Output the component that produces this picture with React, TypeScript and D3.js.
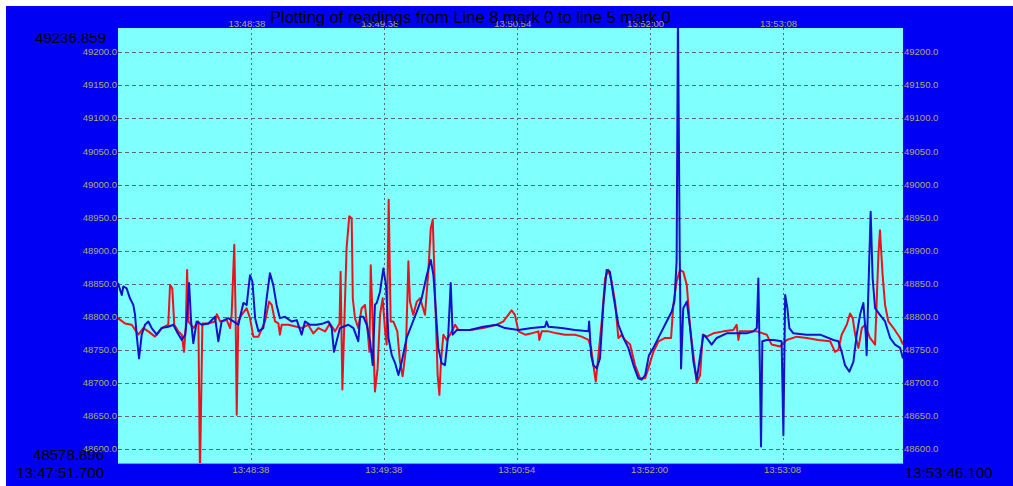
import React, { useEffect, useRef } from 'react';
import * as d3 from 'd3';

// chart text
const title = 'Plotting of readings from Line 8 mark 0 to line 5 mark 0';
const startLabel = '13:47:51.700';
const endLabel = '13:53:46.100';
const yMaxLabel = '49236.859';
const yMinLabel = '48578.896';

// axis extents (value range and elapsed seconds)
const yMax = 49236.859;
const yMin = 48578.896;
const duration = 354.4;

const yTicks = [48600, 48650, 48700, 48750, 48800, 48850, 48900, 48950, 49000, 49050, 49100, 49150, 49200];
const xTicks = [60, 120, 180, 240, 300];
const xTickLabels = ['13:48:38', '13:49:38', '13:50:54', '13:52:00', '13:53:08'];

// red series: elapsed seconds / reading
const redTimes = [
  0, 3.2, 6.2, 9.2, 11.4, 13.7, 16.7, 19.7, 22.7, 23.5, 24.5, 25.4, 27.2, 28.8, 29.8, 30.6, 31.2, 31.8, 34.0, 36.3,
  37.0, 38.1, 40.8, 43.8, 44.6, 46.1, 49.1, 50.6, 51.3, 52.5, 53.1, 53.6, 54.3, 55.8, 58.1, 59.6, 61.1, 63.4, 66.4, 68.2,
  69.4, 70.9, 72.4, 73.1, 73.9, 76.9, 80.7, 82.9, 85.9, 86.7, 88.2, 90.5, 93.5, 95.7, 98.0, 100.0, 100.5, 101.3, 102.2, 103.2,
  104.4, 105.5, 106.0, 107.0, 108.5, 110.0, 111.5, 112.6, 113.5, 114.1, 115.0, 116.0, 117.2, 118.3, 119.5, 120.6, 121.3, 122.2, 123.1, 124.3,
  126.1, 127.3, 128.5, 130.0, 131.1, 131.8, 133.3, 134.9, 136.4, 138.6, 140.1, 141.2, 142.1, 143.1, 144.3, 145.1, 145.8, 146.9, 148.4, 149.9,
  152.2, 153.7, 158.9, 164.9, 171.0, 174.0, 176.2, 177.7, 179.2, 180.8, 183.8, 186.8, 189.8, 190.2, 191.3, 194.3, 198.1, 201.8, 206.3, 209.3,
  212.4, 213.6, 214.6, 215.7, 216.9, 218.4, 219.9, 221.4, 222.9, 224.4, 225.9, 227.4, 228.9, 231.2, 233.4, 235.7, 238.0, 239.4, 241.7, 244.0,
  247.0, 249.7, 250.7, 252.2, 253.7, 255.2, 256.8, 258.3, 259.8, 261.3, 262.8, 264.0, 265.8, 268.8, 273.3, 277.8, 279.3, 280.1, 280.8, 285.3,
  288.4, 292.9, 295.1, 298.9, 301.9, 306.4, 310.9, 316.2, 321.5, 323.7, 325.2, 326.7, 329.0, 330.5, 331.7, 332.8, 334.3, 335.8, 337.3, 339.5,
  341.8, 343.3, 344.0, 345.2, 346.3, 347.8, 350.1, 353.1, 354.4,
];
const redValues = [
  48798, 48790, 48788, 48773, 48783, 48778, 48770, 48783, 48788, 48848, 48843, 48788, 48778, 48773, 48747, 48783, 48871, 48793, 48783, 48793,
  48560, 48790, 48790, 48793, 48804, 48793, 48795, 48783, 48803, 48909, 48803, 48652, 48793, 48803, 48813, 48798, 48770, 48770, 48793, 48823,
  48818, 48793, 48790, 48773, 48788, 48788, 48785, 48783, 48788, 48783, 48775, 48783, 48778, 48790, 48778, 48790, 48868, 48690, 48793, 48904,
  48952, 48949, 48828, 48798, 48783, 48813, 48818, 48783, 48747, 48878, 48793, 48687, 48722, 48803, 48828, 48778, 48758, 48977, 48793, 48793,
  48778, 48732, 48710, 48752, 48884, 48823, 48803, 48823, 48828, 48803, 48868, 48934, 48947, 48838, 48712, 48682, 48732, 48773, 48765, 48773,
  48788, 48780, 48780, 48783, 48788, 48793, 48803, 48810, 48803, 48778, 48773, 48775, 48778, 48765, 48778, 48778, 48775, 48773, 48773, 48770,
  48765, 48753, 48727, 48702, 48742, 48793, 48858, 48871, 48853, 48823, 48768, 48773, 48765, 48758, 48727, 48707, 48707, 48722, 48747, 48763,
  48768, 48768, 48818, 48853, 48871, 48868, 48848, 48783, 48742, 48700, 48712, 48773, 48770, 48775, 48778, 48780, 48788, 48765, 48778, 48778,
  48778, 48773, 48758, 48755, 48765, 48770, 48768, 48765, 48763, 48747, 48750, 48773, 48788, 48805, 48798, 48773, 48753, 48783, 48788, 48768,
  48758, 48894, 48931, 48863, 48818, 48793, 48783, 48768, 48758,
];

// blue series: elapsed seconds / reading
const blueTimes = [
  0, 1.7, 2.4, 3.9, 5.4, 6.9, 7.7, 8.4, 9.5, 10.7, 12.2, 13.7, 15.2, 17.5, 19.7, 22.7, 25.0, 26.5, 28.8, 30.3,
  31.0, 32.1, 33.0, 34.0, 35.5, 37.8, 40.8, 43.8, 45.3, 46.8, 49.8, 52.1, 54.3, 56.6, 58.1, 59.6, 60.7, 61.9, 63.4, 65.6,
  67.1, 68.6, 70.1, 71.6, 73.1, 75.4, 78.4, 80.7, 82.9, 84.4, 86.7, 89.7, 92.7, 95.0, 96.5, 97.5, 98.7, 100.2, 101.7, 104.0,
  106.3, 108.5, 109.3, 110.8, 112.3, 113.8, 115.0, 116.0, 116.8, 118.3, 119.8, 121.0, 122.1, 123.6, 125.1, 126.6, 128.1, 130.3, 132.6, 134.9,
  137.1, 139.4, 141.2, 142.4, 143.6, 144.6, 146.1, 147.6, 149.1, 150.2, 151.1, 152.9, 158.9, 164.9, 171.0, 174.7, 180.8, 186.8, 192.8, 193.5,
  194.3, 200.3, 206.3, 212.4, 212.7, 213.6, 214.6, 216.1, 217.6, 219.1, 220.6, 222.1, 223.6, 225.9, 228.2, 230.4, 232.7, 234.9, 236.4, 238.0,
  239.7, 241.7, 244.7, 247.7, 250.0, 251.2, 252.2, 252.8, 253.6, 254.2, 255.2, 256.8, 258.3, 259.8, 261.3, 262.8, 264.3, 265.8, 268.0, 270.3,
  274.8, 279.3, 283.8, 286.8, 288.4, 289.1, 289.9, 290.3, 290.9, 292.9, 295.9, 299.6, 300.4, 301.2, 302.2, 303.1, 304.9, 310.9, 317.0, 323.0,
  325.2, 326.7, 328.2, 330.2, 332.0, 333.5, 335.0, 336.5, 337.6, 338.0, 338.8, 339.8, 340.7, 341.8, 344.0, 346.3, 348.6, 350.8, 353.1, 354.4,
];
const blueValues = [
  48851, 48833, 48846, 48843, 48828, 48818, 48803, 48773, 48737, 48773, 48788, 48793, 48783, 48773, 48783, 48785, 48788, 48778, 48765, 48773,
  48793, 48851, 48793, 48760, 48793, 48788, 48790, 48800, 48763, 48793, 48798, 48793, 48788, 48821, 48818, 48863, 48853, 48798, 48778, 48783,
  48828, 48866, 48848, 48818, 48798, 48800, 48793, 48795, 48773, 48793, 48788, 48788, 48790, 48793, 48783, 48747, 48763, 48783, 48785, 48788,
  48783, 48763, 48800, 48800, 48788, 48763, 48727, 48818, 48821, 48838, 48873, 48848, 48768, 48742, 48730, 48712, 48732, 48768, 48788, 48808,
  48828, 48863, 48886, 48863, 48804, 48753, 48730, 48727, 48773, 48851, 48773, 48780, 48780, 48785, 48788, 48783, 48780, 48783, 48785, 48793,
  48785, 48783, 48780, 48778, 48793, 48742, 48727, 48722, 48737, 48818, 48871, 48868, 48833, 48788, 48768, 48753, 48727, 48707, 48705, 48712,
  48742, 48753, 48773, 48793, 48808, 48823, 48884, 49260, 48894, 48722, 48813, 48823, 48783, 48732, 48705, 48740, 48773, 48768, 48758, 48768,
  48775, 48775, 48775, 48778, 48783, 48858, 48697, 48604, 48763, 48765, 48765, 48763, 48621, 48833, 48813, 48783, 48775, 48773, 48773, 48765,
  48763, 48747, 48727, 48717, 48732, 48773, 48803, 48821, 48773, 48742, 48843, 48959, 48858, 48813, 48803, 48793, 48768, 48758, 48753, 48737,
];

const W = 1013;
const H = 486;
const plot = { left: 118, right: 903, top: 28, bottom: 463 };
const labelColor = '#b4ac6c';
const fontFamily = '"Liberation Sans", Arial, sans-serif';

const Chart = () => {
  const ref = useRef<SVGSVGElement>(null);

  useEffect(() => {
    document.body.style.margin = '0';
    const svg = d3.select(ref.current);
    svg.selectAll('*').remove();

    const x = d3.scaleLinear().domain([0, duration]).range([plot.left, plot.right]);
    const y = d3.scaleLinear().domain([yMin, yMax]).range([plot.bottom, plot.top]);

    // backgrounds
    svg.append('rect').attr('width', W).attr('height', H).attr('fill', '#ffffff');
    svg.append('rect').attr('x', 6).attr('y', 6).attr('width', W - 6).attr('height', H - 6).attr('fill', '#0000f4');
    svg.append('rect')
      .attr('x', plot.left).attr('y', plot.top)
      .attr('width', plot.right - plot.left).attr('height', plot.bottom - plot.top)
      .attr('fill', '#80ffff');
    svg.append('line')
      .attr('x1', plot.left).attr('x2', plot.right)
      .attr('y1', plot.bottom + 0.5).attr('y2', plot.bottom + 0.5)
      .attr('stroke', '#6f8cff');

    // grid
    svg.append('g').selectAll('line').data(yTicks).enter().append('line')
      .attr('x1', plot.left).attr('x2', plot.right)
      .attr('y1', d => Math.round(y(d)) + 0.5).attr('y2', d => Math.round(y(d)) + 0.5)
      .attr('stroke', '#5a6a6a').attr('stroke-dasharray', '4,3');
    svg.append('g').selectAll('line').data(xTicks).enter().append('line')
      .attr('x1', d => Math.round(x(d)) + 0.5).attr('x2', d => Math.round(x(d)) + 0.5)
      .attr('y1', plot.top).attr('y2', plot.bottom)
      .attr('stroke', '#5a6a6a').attr('stroke-dasharray', '2,3');

    // tick labels
    const yl = svg.append('g').attr('font-family', fontFamily).attr('font-size', 9.5).attr('fill', labelColor);
    yl.selectAll('text.l').data(yTicks).enter().append('text')
      .attr('class', 'l')
      .attr('x', plot.left - 1).attr('y', d => y(d) + 3)
      .attr('text-anchor', 'end')
      .text(d => d.toFixed(1));
    yl.selectAll('text.r').data(yTicks).enter().append('text')
      .attr('class', 'r')
      .attr('x', plot.right + 1).attr('y', d => y(d) + 3)
      .attr('text-anchor', 'start')
      .text(d => d.toFixed(1));

    const xl = svg.append('g').attr('font-family', fontFamily).attr('font-size', 9.5).attr('fill', labelColor)
      .attr('text-anchor', 'middle');
    xl.selectAll('text.t').data(xTicks).enter().append('text')
      .attr('class', 't')
      .attr('x', d => x(d) - 4).attr('y', plot.top - 1)
      .text((d, i) => xTickLabels[i]);
    xl.selectAll('text.b').data(xTicks).enter().append('text')
      .attr('class', 'b')
      .attr('x', d => x(d)).attr('y', plot.bottom + 10)
      .text((d, i) => xTickLabels[i]);

    // lines
    svg.append('clipPath').attr('id', 'plot-clip').append('rect')
      .attr('x', plot.left).attr('y', plot.top)
      .attr('width', plot.right - plot.left).attr('height', plot.bottom - plot.top);

    const line = d3.line<[number, number]>().x(d => x(d[0])).y(d => y(d[1]));
    const red = redTimes.map((t, i) => [t, redValues[i]] as [number, number]);
    const blue = blueTimes.map((t, i) => [t, blueValues[i]] as [number, number]);

    const lines = svg.append('g').attr('clip-path', 'url(#plot-clip)');
    lines.append('path').attr('d', line(red)).attr('fill', 'none')
      .attr('stroke', '#e8141c').attr('stroke-width', 2).attr('stroke-linejoin', 'round');
    lines.append('path').attr('d', line(blue)).attr('fill', 'none')
      .attr('stroke', '#1212c8').attr('stroke-width', 2).attr('stroke-linejoin', 'round');

    // corner labels and title
    const big = svg.append('g').attr('font-family', fontFamily).attr('font-size', 15).attr('fill', '#000000');
    big.append('text').attr('x', 106).attr('y', 43).attr('text-anchor', 'end').text(yMaxLabel);
    big.append('text').attr('x', 104).attr('y', 460).attr('text-anchor', 'end').text(yMinLabel);
    big.append('text').attr('x', 104).attr('y', 478).attr('text-anchor', 'end').text(startLabel);
    big.append('text').attr('x', 905).attr('y', 478).attr('text-anchor', 'start').text(endLabel);

    svg.append('text')
      .attr('x', 270).attr('y', 23)
      .attr('font-family', fontFamily).attr('font-size', 16.5)
      .attr('fill', '#000000')
      .text(title);
  }, []);

  return <svg ref={ref} width={W} height={H} style={{ position: 'absolute', left: 0, top: 0, display: 'block' }} />;
};

export default function App() {
  return <Chart />;
}
